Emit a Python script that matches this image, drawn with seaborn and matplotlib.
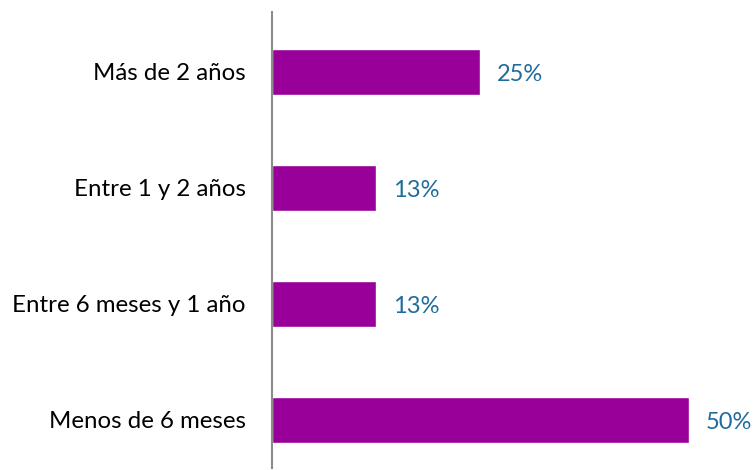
import matplotlib
matplotlib.use("Agg")
import matplotlib.pyplot as plt
import seaborn as sns
import pandas as pd

categories = ["Más de 2 años", "Entre 1 y 2 años", "Entre 6 meses y 1 año", "Menos de 6 meses"]
values = [25, 12.5, 12.5, 50]
value_labels = ["25%", "13%", "13%", "50%"]

sns.set_theme(style="white")
plt.rcParams['font.family'] = ['Lato', 'DejaVu Sans']

df = pd.DataFrame({"cat": categories, "val": values})

W, H = 755, 470
fig = plt.figure(figsize=(W / 100, H / 100), dpi=100)
ax = fig.add_axes([272 / W, (H - 468) / H, (W - 272) / W, 456 / H])

sns.barplot(data=df, y="cat", x="val", orient="h", color="#990099",
            saturation=1, width=0.397, ax=ax)

ax.set_xlim(0, (W - 272) / 8.34)
ax.set_ylim(3.414, -0.517)
ax.set_xlabel("")
ax.set_ylabel("")
ax.set_xticks([])
for s in ["top", "right", "bottom"]:
    ax.spines[s].set_visible(False)
ax.spines["left"].set_color("#8c8c8c")
ax.spines["left"].set_linewidth(1.5)
ax.tick_params(axis="y", length=0, pad=19, labelsize=17.3, labelcolor="#000000")

for i, (v, lab) in enumerate(zip(values, value_labels)):
    ax.annotate(lab, xy=(v, i), xytext=(12, -1.5), textcoords="offset points",
                va="center", ha="left", fontsize=17, color="#1f6c9c")

fig.savefig("out.png", dpi=100)
